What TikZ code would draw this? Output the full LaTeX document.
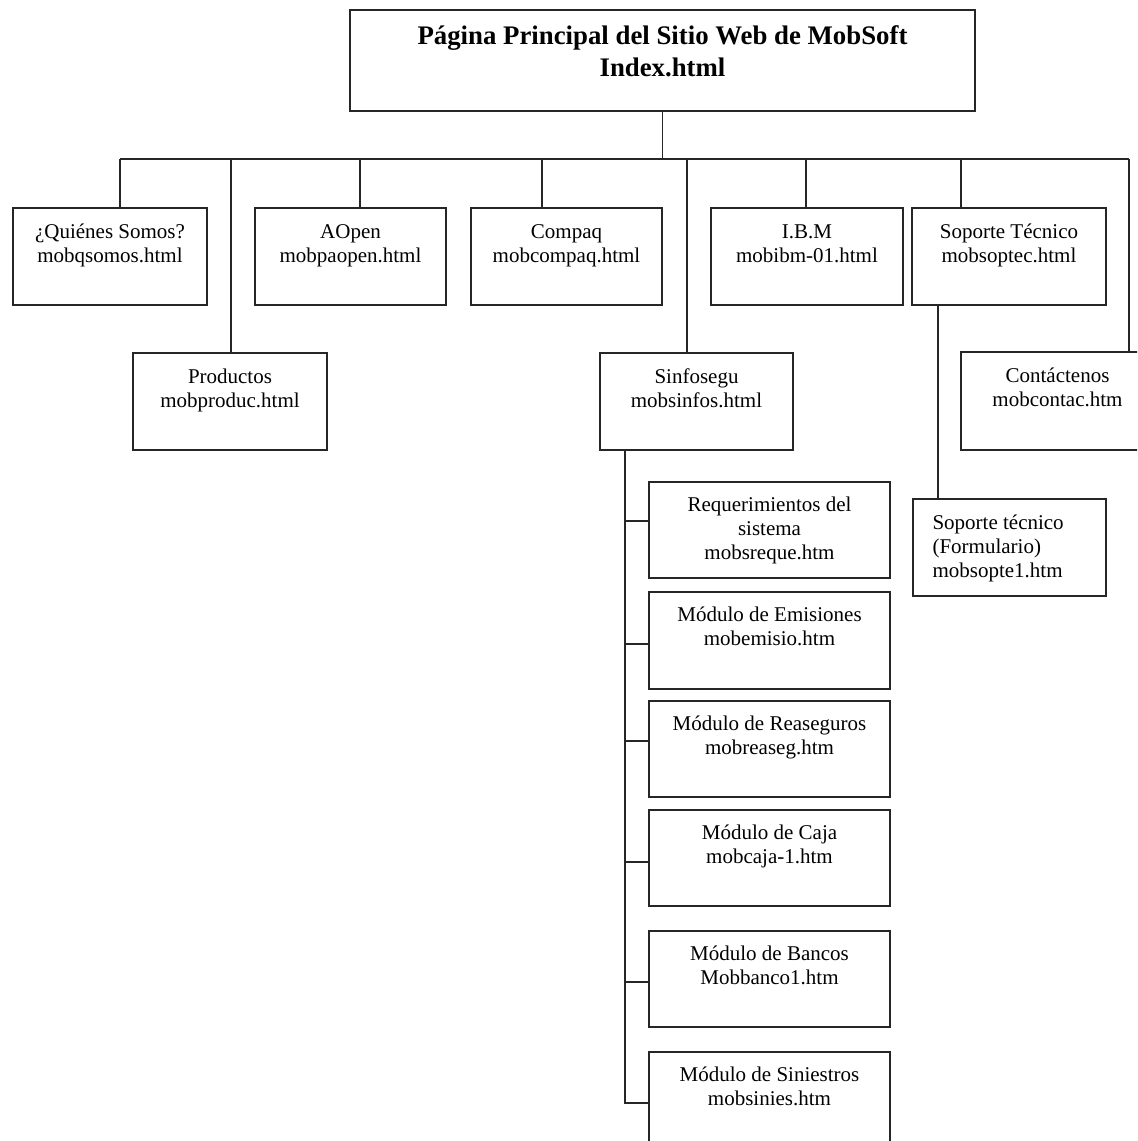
\documentclass[tikz,border=0pt]{standalone}
\usepackage{fontspec}
\setmainfont{Liberation Serif}
\usetikzlibrary{fit}
% #1 name, #2..#5 corners (px), #6 drop of the last baseline below the top (pt), #7 text
\newcommand{\webbox}[7]{%
  \node[pbox, fit={(#2,#3)(#4,#5)}] (#1) {};
  \node[ptext] (#1t) at ([yshift=-#6pt]#1.north) {#7};}
\begin{document}
\begin{tikzpicture}[x=0.5pt,y=-0.5pt,
  pbox/.style={draw=black!85, line width=0.9pt, inner sep=0pt},
  ptext/.style={font=\fontsize{10.5}{12}\selectfont, align=center, inner sep=0pt, anchor=base},
  conn/.style={draw=black!85, line width=0.9pt}]
\useasboundingbox (0,0) rectangle (1137,1141);
\fill[white] (0,0) rectangle (1137,1141);
\clip (0,0) rectangle (1137,1141);

% top box
\node[pbox, fit={(350,10)(975,111)}] (top) {};
\node[ptext, font=\fontsize{13.4}{16}\selectfont\bfseries] (topt) at ([yshift=-33.5pt]top.north)
  {Página Principal del Sitio Web de MobSoft\\Index.html};

% first row
\webbox{quienes}{13}{208}{207}{305}{27.5}{¿Quiénes Somos?\\mobqsomos.html}
\webbox{aopen}{255}{208}{446}{305}{27.5}{AOpen\\mobpaopen.html}
\webbox{compaq}{471}{208}{662}{305}{27.5}{Compaq\\mobcompaq.html}
\webbox{ibm}{711}{208}{903}{305}{27.5}{I.B.M\\mobibm-01.html}
\webbox{soporte}{912}{208}{1106}{305}{27.5}{Soporte Técnico\\mobsoptec.html}

% second row
\webbox{productos}{133}{353}{327}{450}{27.5}{Productos\\mobproduc.html}
\webbox{sinf}{600}{353}{793}{450}{27.5}{Sinfosegu\\mobsinfos.html}
\webbox{contact}{961}{352}{1154}{450}{27.5}{Contáctenos\\mobcontac.htm}

% soporte form
\node[pbox, fit={(913,499)(1106,596)}] (form) {};
\node[ptext, align=left, anchor=base west] (formt) at ([xshift=10pt,yshift=-39.5pt]form.north west)
  {Soporte técnico\\(Formulario)\\mobsopte1.htm};

% sinfosegu modules
\webbox{req}{649}{482}{890}{578}{39}{Requerimientos del\\sistema\\mobsreque.htm}
\webbox{emis}{649}{592}{890}{689}{27}{Módulo de Emisiones\\mobemisio.htm}
\webbox{reas}{649}{701}{890}{797}{27}{Módulo de Reaseguros\\mobreaseg.htm}
\webbox{caja}{649}{810}{890}{906}{27}{Módulo de Caja\\mobcaja-1.htm}
\webbox{bancos}{649}{931}{890}{1027}{27}{Módulo de Bancos\\Mobbanco1.htm}
\webbox{sinies}{649}{1052}{890}{1150}{27}{Módulo de Siniestros\\mobsinies.htm}

% bus
\coordinate (busL) at (120,159);
\coordinate (busR) at (1129,159);
\draw[conn] (top.south) -- (top.south |- busL);
\draw[conn] (busL) -- (busR);
\draw[conn] (busL) -- (busL |- quienes.north);
\coordinate (dprod) at (231,159);
\draw[conn] (dprod) -- (dprod |- productos.north);
\coordinate (daopen) at (360,159);
\draw[conn] (daopen) -- (daopen |- aopen.north);
\coordinate (dcompaq) at (542,159);
\draw[conn] (dcompaq) -- (dcompaq |- compaq.north);
\coordinate (dsinf) at (687,159);
\draw[conn] (dsinf) -- (dsinf |- sinf.north);
\coordinate (dibm) at (806,159);
\draw[conn] (dibm) -- (dibm |- ibm.north);
\coordinate (dsop) at (961,159);
\draw[conn] (dsop) -- (dsop |- soporte.north);
\draw[conn] (busR) -- (busR |- contact.north);

% soporte -> form
\coordinate (sform) at (938,305);
\draw[conn] (sform |- soporte.south) -- (sform |- form.north);

% sinfosegu -> modules
\coordinate (sv) at (625,450);
\coordinate (svend) at (625,1103);
\draw[conn] (sv |- sinf.south) -- (svend) -- (svend -| sinies.west);
\coordinate (breq) at (625,521);
\draw[conn] (breq) -- (breq -| req.west);
\coordinate (bemis) at (625,644);
\draw[conn] (bemis) -- (bemis -| emis.west);
\coordinate (breas) at (625,741);
\draw[conn] (breas) -- (breas -| reas.west);
\coordinate (bcaja) at (625,862);
\draw[conn] (bcaja) -- (bcaja -| caja.west);
\coordinate (bbanc) at (625,982);
\draw[conn] (bbanc) -- (bbanc -| bancos.west);
\end{tikzpicture}
\end{document}
